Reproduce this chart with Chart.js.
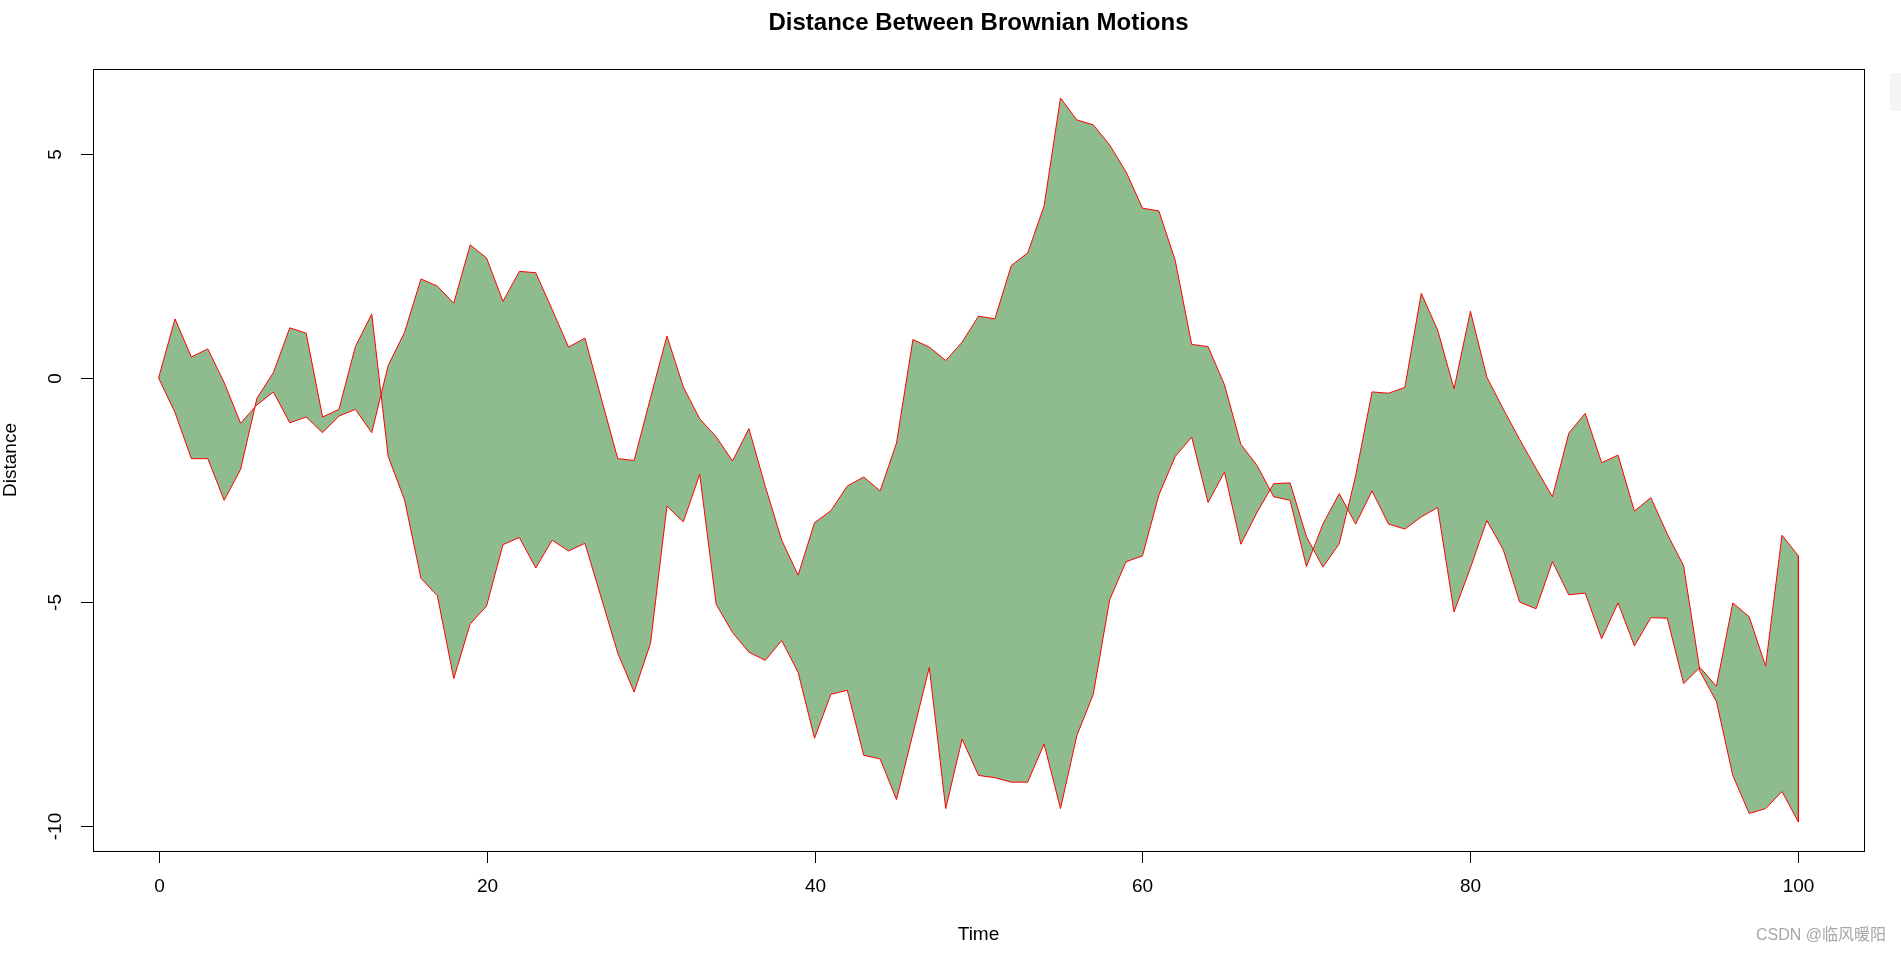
<!DOCTYPE html>
<html>
<head>
<meta charset="utf-8">
<script src="https://cdn.jsdelivr.net/npm/chart.js@4/dist/chart.umd.min.js"></script>
<style>
html,body{margin:0;padding:0;background:#fff;}
#wrap{width:1901px;height:954px;position:relative;}
canvas{display:block;}
</style>
</head>
<body>
<div id="wrap"><canvas id="c" width="1901" height="954"></canvas></div>
<script>
// Time steps 0..100
const timeSteps = [0,1,2,3,4,5,6,7,8,9,10,11,12,13,14,15,16,17,18,19,20,21,22,23,24,25,26,27,28,29,30,31,32,33,34,35,36,37,38,39,40,41,42,43,44,45,46,47,48,49,50,51,52,53,54,55,56,57,58,59,60,61,62,63,64,65,66,67,68,69,70,71,72,73,74,75,76,77,78,79,80,81,82,83,84,85,86,87,88,89,90,91,92,93,94,95,96,97,98,99,100];
// Brownian motion 1
const motionA = [0,1.32,0.47,0.65,-0.10,-1.01,
  -0.60,-0.31,-1.00,-0.87,-1.22,-0.85,-0.70,-1.22,
  0.28,1.02,2.21,2.05,1.67,2.97,2.68,1.71,2.38,2.35,1.53,0.69,0.89,-0.46,-1.80,-1.84,-0.44,0.94,-0.20,-0.91,-1.31,-1.85,-1.13,-2.42,-3.62,-4.40,-3.23,-2.96,-2.41,-2.21,-2.52,-1.45,0.86,0.69,0.39,0.80,1.38,1.32,2.51,2.79,3.84,6.25,5.76,5.65,5.20,4.60,3.79,3.73,2.62,0.75,0.70,-0.15,-1.48,-1.96,
  -2.65,-2.73,-4.21,
  -3.26,-2.58,
  -3.26,-2.52,-3.26,-3.37,-3.10,-2.89,-5.22,-4.24,-3.18,-3.83,-5.00,-5.15,-4.10,-4.84,-4.80,-5.82,-5.02,-5.98,-5.35,-5.36,-6.82,
  -6.46,-6.88,-5.02,-5.33,-6.43,-3.51,-3.97];
// Brownian motion 2
const motionB = [0,-0.77,-1.80,-1.80,-2.73,-2.04,
  -0.45,0.12,1.12,1.00,-0.87,-0.70,0.70,1.43,
  -1.75,-2.72,-4.47,-4.86,-6.71,-5.49,-5.09,-3.72,-3.56,-4.24,-3.62,-3.86,-3.69,-4.91,-6.14,-7.01,-5.92,-2.86,-3.21,-2.15,-5.05,-5.68,-6.12,-6.30,-5.86,-6.57,-8.04,-7.06,-6.97,-8.42,-8.50,-9.41,-7.94,-6.46,-9.61,-8.06,-8.87,-8.92,-9.02,-9.02,-8.17,-9.61,-7.98,-7.06,-4.95,-4.10,-3.97,-2.61,-1.75,-1.32,-2.78,-2.10,-3.71,-2.99,
  -2.36,-2.34,-3.54,
  -4.22,-3.70,
  -2.18,-0.31,-0.34,-0.21,1.89,1.07,-0.24,1.49,0.02,-0.69,-1.37,-2.02,-2.65,-1.23,-0.79,-1.89,-1.72,-2.97,-2.67,-3.48,-4.19,
  -6.55,-7.22,-8.87,-9.72,-9.61,-9.23,-9.91];
const xTickValues = [0,20,40,60,80,100];
const yTickValues = [-10,-5,0,5];
const yTickLabels = ["-10","-5","0","5"];
const titleText = "Distance Between Brownian Motions";
const xAxisTitle = "Time";
const yAxisTitle = "Distance";
const watermark = "CSDN @临风暖阳";

const FONT = '"Liberation Sans", Arial, "Noto Sans CJK SC", sans-serif';

const ptsA = timeSteps.map((t,i)=>({x:t,y:motionA[i]}));
const ptsB = timeSteps.map((t,i)=>({x:t,y:motionB[i]}));
const lastT = timeSteps[timeSteps.length-1];
const closingEdge = [{x:lastT,y:motionA[motionA.length-1]},{x:lastT,y:motionB[motionB.length-1]}];

// R-style 4% axis expansion
const allY = motionA.concat(motionB);
const yMin = Math.min(...allY), yMax = Math.max(...allY);
const yPad = 0.04*(yMax-yMin);
const xMin = timeSteps[0], xMax = lastT;
const xPad = 0.04*(xMax-xMin);

const rAxes = {
  id:'rAxes',
  afterDraw(chart){
    const ctx = chart.ctx, a = chart.chartArea;
    const xs = chart.scales.x, ys = chart.scales.y;
    ctx.save();
    ctx.strokeStyle = '#000'; ctx.lineWidth = 1;
    ctx.strokeRect(Math.round(a.left)+0.5, Math.round(a.top)+0.5, Math.round(a.right-a.left), Math.round(a.bottom-a.top));
    ctx.fillStyle = '#000';
    ctx.font = '19px ' + FONT;
    ctx.textAlign = 'center'; ctx.textBaseline = 'middle';
    xTickValues.forEach(v=>{
      const px = Math.round(xs.getPixelForValue(v))+0.5;
      ctx.beginPath(); ctx.moveTo(px, a.bottom); ctx.lineTo(px, a.bottom+12); ctx.stroke();
      ctx.fillText(String(v), px, a.bottom+36);
    });
    yTickValues.forEach((v,i)=>{
      const py = Math.round(ys.getPixelForValue(v))+0.5;
      ctx.beginPath(); ctx.moveTo(a.left-12, py); ctx.lineTo(a.left, py); ctx.stroke();
      ctx.save();
      ctx.translate(a.left-37, py);
      ctx.rotate(-Math.PI/2);
      ctx.fillText(yTickLabels[i], 0, 0);
      ctx.restore();
    });
    ctx.fillText(xAxisTitle, (a.left+a.right)/2, a.bottom+84);
    ctx.save();
    ctx.translate(a.left-82, (a.top+a.bottom)/2);
    ctx.rotate(-Math.PI/2);
    ctx.fillText(yAxisTitle, 0, 0);
    ctx.restore();
    ctx.font = 'bold 24px ' + FONT;
    ctx.fillText(titleText, (a.left+a.right)/2, 23);
    ctx.font = '16px ' + FONT;
    ctx.fillStyle = '#a6a6a6';
    ctx.textAlign = 'right';
    ctx.fillText(watermark, 1886, 936);
    ctx.fillStyle = '#f4f4f4';
    ctx.fillRect(1890, 73, 11, 38);
    ctx.restore();
  }
};

new Chart(document.getElementById('c'), {
  type:'line',
  data:{
    datasets:[
      {data:ptsA, borderColor:'#ff0000', borderWidth:1, pointRadius:0, fill:false, tension:0},
      {data:ptsB, borderColor:'#ff0000', borderWidth:1, pointRadius:0, fill:'-1', backgroundColor:'#8FBC8F', tension:0},
      {data:closingEdge, borderColor:'#ff0000', borderWidth:1, pointRadius:0, fill:false}
    ]
  },
  options:{
    responsive:false,
    animation:false,
    devicePixelRatio:1,
    layout:{padding:{left:93, top:69, right:37, bottom:103}},
    plugins:{legend:{display:false}, tooltip:{enabled:false}, title:{display:false}, filler:{drawTime:'beforeDatasetsDraw'}},
    scales:{
      x:{type:'linear', display:false, min:xMin-xPad, max:xMax+xPad},
      y:{type:'linear', display:false, min:yMin-yPad, max:yMax+yPad}
    }
  },
  plugins:[rAxes]
});
</script>
</body>
</html>
